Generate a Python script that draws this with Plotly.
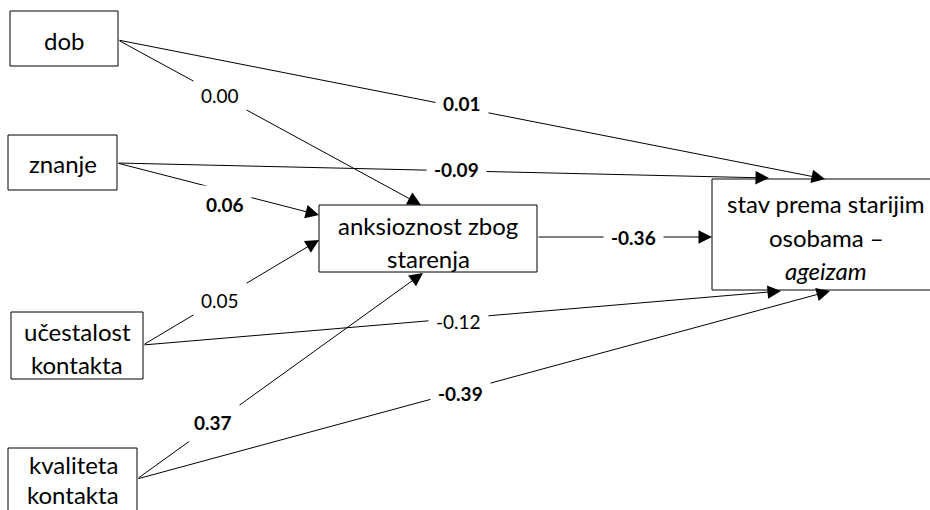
import plotly.graph_objects as go

# ---- data ----
node_ids = ["dob", "znanje", "ucestalost", "kvaliteta", "anksioznost", "stav"]
node_lines = [
    ["dob"],
    ["znanje"],
    ["učestalost", "kontakta"],
    ["kvaliteta", "kontakta"],
    ["anksioznost zbog", "starenja"],
    ["stav prema starijim", "osobama –", "<i>ageizam</i>"],
]
path_source = ["dob", "dob", "znanje", "znanje", "ucestalost", "ucestalost", "kvaliteta", "kvaliteta", "anksioznost"]
path_target = ["anksioznost", "stav", "anksioznost", "stav", "anksioznost", "stav", "anksioznost", "stav", "stav"]
path_coef = [0.00, 0.01, 0.06, -0.09, 0.05, -0.12, 0.37, -0.39, -0.36]
path_significant = [False, True, True, True, False, False, True, True, True]

# ---- layout (pixel positions of the diagram in the page) ----
W, H = 930, 510
box = {
    "dob": (10, 11, 118, 66),
    "znanje": (8, 135, 117, 190),
    "ucestalost": (11, 312, 143, 379),
    "kvaliteta": (8, 448, 137, 525),
    "anksioznost": (319, 205, 537, 272),
    "stav": (712, 179, 940, 290),
}
text_center_x = {"dob": 64, "znanje": 63, "ucestalost": 77, "kvaliteta": 73, "anksioznost": 428, "stav": 826}
text_first_y = {"dob": 40, "znanje": 163, "ucestalost": 331, "kvaliteta": 464, "anksioznost": 225, "stav": 203}
line_gap = {"dob": [0], "znanje": [0], "ucestalost": [0, 33], "kvaliteta": [0, 30],
            "anksioznost": [0, 33], "stav": [0, 34, 67]}
path_tail = [(118, 40), (118, 40), (117, 163), (117, 163), (143, 345), (143, 345), (137, 479), (137, 479), (537, 237)]
path_tip = [(421, 205), (825, 179), (319, 215), (769, 178), (319, 240), (781, 291), (423, 273), (830, 291), (712, 237)]
label_pos = [(220, 95), (462, 103), (225, 204), (456, 169), (220, 300), (458, 321), (213, 422), (460, 393), (633, 237)]

FONT = "Lato, 'Open Sans', sans-serif"

fig = go.Figure()
fig.add_trace(go.Scatter(x=[0, W], y=[0, H], mode="markers", marker=dict(opacity=0),
                         hoverinfo="skip", showlegend=False))

for nid in node_ids:
    x0, y0, x1, y1 = box[nid]
    fig.add_shape(type="rect", xref="x", yref="y", x0=x0, y0=y0, x1=x1, y1=y1,
                  line=dict(color="black", width=1), fillcolor="white", layer="above")

annotations = []
for (tx, ty), (hx, hy) in zip(path_tail, path_tip):
    annotations.append(dict(x=hx, y=hy, ax=tx, ay=ty, xref="x", yref="y", axref="x", ayref="y",
                            text="", showarrow=True, arrowhead=2, arrowsize=2.7, arrowwidth=1,
                            arrowcolor="black", standoff=0, startstandoff=0))
for (lx, ly), v, sig in zip(label_pos, path_coef, path_significant):
    t = f"{v:.2f}"
    if sig:
        t = f"<b>{t}</b>"
    annotations.append(dict(x=lx, y=ly, xref="x", yref="y", text=t, showarrow=False,
                            font=dict(family=FONT, size=19, color="black"),
                            bgcolor="white", borderpad=7, xanchor="center", yanchor="middle"))
for nid, lines in zip(node_ids, node_lines):
    for i, ln in enumerate(lines):
        annotations.append(dict(x=text_center_x[nid], y=text_first_y[nid] + line_gap[nid][i], xref="x", yref="y",
                                text=ln, showarrow=False, font=dict(family=FONT, size=24, color="black"),
                                xanchor="center", yanchor="middle"))

fig.update_layout(
    width=W, height=H, margin=dict(l=0, r=0, t=0, b=0),
    paper_bgcolor="white", plot_bgcolor="white",
    xaxis=dict(range=[0, W], visible=False, fixedrange=True),
    yaxis=dict(range=[H, 0], visible=False, fixedrange=True),
    annotations=annotations, showlegend=False, hovermode=False,
)
fig.write_html("out.html", config={"displayModeBar": False},
               post_script="document.body.style.margin='0px';document.body.style.overflow='hidden';")
